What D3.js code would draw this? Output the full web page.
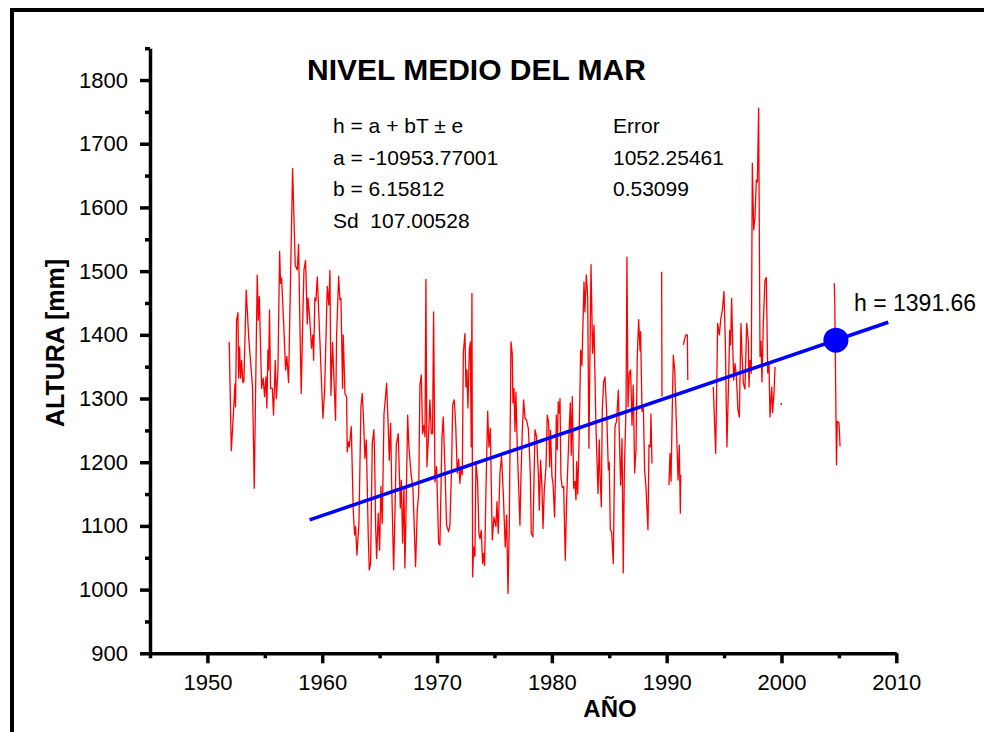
<!DOCTYPE html>
<html>
<head>
<meta charset="utf-8">
<script src="https://cdn.jsdelivr.net/npm/d3@7"></script>
<style>
  html, body { margin: 0; padding: 0; background: #fff; }
  svg { display: block; font-family: "Liberation Sans", Arial, sans-serif; }
</style>
</head>
<body>
<svg id="chart" width="984" height="732"></svg>
<script>
// ─── Data ───────────────────────────────────────
// [year, level in mm], one array per continuous stretch of the record
const obs1950s = [[1951.90,1389],[1952.08,1218],[1952.25,1271],[1952.40,1323],[1952.45,1287],[1952.54,1423],[1952.66,1435],[1952.72,1332],[1952.80,1381],[1952.89,1332],[1952.98,1360],[1953.09,1325],[1953.18,1327],[1953.38,1470],[1953.61,1392],[1953.93,1318],[1954.08,1159],[1954.34,1494],[1954.43,1423],[1954.52,1460],[1954.72,1316],[1954.86,1332],[1954.98,1303],[1955.10,1334],[1955.18,1285],[1955.27,1376],[1955.33,1345],[1955.41,1439],[1955.50,1316],[1955.65,1316],[1955.76,1274],[1955.91,1360],[1956.00,1300],[1956.14,1342],[1956.29,1531],[1956.37,1481],[1956.46,1489],[1956.66,1410],[1956.81,1345],[1956.92,1366],[1957.07,1325],[1957.42,1661],[1957.65,1509],[1957.83,1502],[1957.94,1542],[1958.06,1413],[1958.17,1308],[1958.32,1436],[1958.41,1502],[1958.55,1517],[1958.70,1417],[1958.76,1458],[1958.90,1429],[1959.07,1379],[1959.19,1400],[1959.25,1360],[1959.36,1458],[1959.45,1453],[1959.57,1491],[1959.80,1389]];
const obs1960s = [[1960.06,1269],[1960.21,1313],[1960.44,1476],[1960.58,1447],[1960.67,1501],[1960.76,1305],[1960.90,1388],[1961.16,1266],[1961.25,1397],[1961.43,1492],[1961.54,1455],[1961.63,1457],[1961.77,1316],[1961.83,1400],[1961.98,1308],[1962.12,1303],[1962.18,1216],[1962.27,1232],[1962.36,1224],[1962.53,1256],[1962.70,1125],[1962.82,1086],[1962.91,1099],[1963.02,1054],[1963.20,1104],[1963.37,1287],[1963.49,1308],[1963.60,1266],[1963.72,1206],[1963.84,1235],[1964.01,1083],[1964.10,1031],[1964.21,1041],[1964.36,1230],[1964.50,1251],[1964.56,1214],[1964.65,1099],[1964.74,1049],[1964.88,1120],[1965.00,1062],[1965.11,1162],[1965.23,1104],[1965.38,1276],[1965.61,1324],[1965.78,1240],[1965.84,1203],[1965.96,1261],[1966.04,1172],[1966.22,1031],[1966.36,1141],[1966.45,1227],[1966.62,1245],[1966.74,1169],[1966.80,1128],[1966.89,1172],[1967.00,1073],[1967.12,1162],[1967.20,1034],[1967.32,1141],[1967.44,1274],[1967.55,1224],[1967.73,1183],[1967.90,1159],[1968.13,1036],[1968.28,1125],[1968.40,1151],[1968.51,1321],[1968.63,1337],[1968.74,1245],[1968.86,1258],[1968.95,1240],[1969.03,1487],[1969.12,1193],[1969.27,1245],[1969.38,1298],[1969.50,1245],[1969.61,1245],[1969.70,1436],[1969.82,1169],[1969.96,1193]];
const obs1970s = [[1970.14,1073],[1970.25,1070],[1970.43,1240],[1970.54,1271],[1970.69,1190],[1970.83,1101],[1971.01,1091],[1971.12,1101],[1971.27,1193],[1971.36,1290],[1971.50,1298],[1971.62,1261],[1971.76,1183],[1971.88,1205],[1971.99,1167],[1972.08,1190],[1972.20,1180],[1972.29,1371],[1972.43,1402],[1972.52,1318],[1972.60,1345],[1972.69,1285],[1972.81,1376],[1972.90,1389],[1972.98,1224],[1973.04,1465],[1973.10,1020],[1973.19,1067],[1973.30,1052],[1973.39,1201],[1973.53,1170],[1973.65,1088],[1973.74,1080],[1973.85,1093],[1973.97,1041],[1974.06,1057],[1974.14,1038],[1974.26,1156],[1974.41,1280],[1974.52,1224],[1974.64,1253],[1974.81,1078],[1974.96,1114],[1975.13,1099],[1975.22,1138],[1975.33,1088],[1975.48,1183],[1975.62,1209],[1975.77,1151],[1975.94,1067],[1976.06,1117],[1976.18,994],[1976.29,1099],[1976.44,1389],[1976.55,1370],[1976.61,1293],[1976.70,1316],[1976.79,1248],[1976.87,1310],[1976.99,1224],[1977.22,1101],[1977.31,1177],[1977.42,1245],[1977.54,1298],[1977.66,1269],[1977.80,1266],[1977.95,1253],[1978.03,1224],[1978.12,1183],[1978.21,1088],[1978.35,1083],[1978.53,1251],[1978.67,1240],[1978.82,1183],[1978.91,1125],[1979.02,1203],[1979.14,1160],[1979.23,1096],[1979.34,1156],[1979.49,1193],[1979.60,1274],[1979.72,1262],[1979.81,1193],[1979.89,1250]];
const obs1980s = [[1980.01,1177],[1980.10,1167],[1980.24,1114],[1980.33,1193],[1980.39,1274],[1980.47,1220],[1980.56,1295],[1980.65,1277],[1980.71,1300],[1980.79,1177],[1980.91,1160],[1981.03,1162],[1981.17,1046],[1981.29,1143],[1981.46,1230],[1981.61,1293],[1981.69,1211],[1981.78,1303],[1981.90,1159],[1982.01,1170],[1982.10,1141],[1982.16,1201],[1982.25,1150],[1982.36,1224],[1982.51,1376],[1982.62,1352],[1982.80,1483],[1982.88,1436],[1983.00,1494],[1983.12,1460],[1983.23,1222],[1983.41,1510],[1983.55,1371],[1983.67,1415],[1983.84,1256],[1984.02,1151],[1984.13,1235],[1984.19,1183],[1984.31,1130],[1984.39,1280],[1984.51,1326],[1984.63,1334],[1984.77,1280],[1984.92,1188],[1985.00,1200],[1985.09,1094],[1985.21,1090],[1985.35,1041],[1985.50,1256],[1985.64,1265],[1985.79,1313],[1985.88,1240],[1985.99,1164],[1986.11,1237],[1986.22,1026],[1986.31,1180],[1986.46,1287],[1986.54,1522],[1986.63,1287],[1986.75,1340],[1986.86,1345],[1986.98,1258],[1987.09,1321],[1987.21,1183],[1987.33,1220],[1987.44,1366],[1987.56,1424],[1987.68,1375],[1987.73,1405],[1987.85,1280],[1987.97,1285],[1988.08,1188],[1988.20,1160],[1988.37,1094],[1988.46,1227],[1988.58,1224],[1988.63,1276],[1988.72,1198]];
const obs1989 = [[1989.56,1499],[1989.59,1303]];
const obs1990 = [[1990.20,1164],[1990.29,1214],[1990.38,1170],[1990.52,1318],[1990.58,1368],[1990.70,1345],[1990.87,1245],[1990.99,1172],[1991.10,1227],[1991.19,1120],[1991.22,1180]];
const obs1991 = [[1991.45,1384],[1991.60,1396],[1991.68,1400],[1991.80,1400],[1991.84,1329]];
const obs1994 = [[1994.06,1318],[1994.27,1214],[1994.44,1418],[1994.59,1400],[1994.70,1423],[1994.85,1439],[1994.99,1468],[1995.11,1387],[1995.25,1224],[1995.40,1334],[1995.49,1407],[1995.57,1384],[1995.66,1457],[1995.75,1385],[1995.84,1329],[1995.95,1355],[1996.07,1335],[1996.21,1282],[1996.33,1271],[1996.47,1418],[1996.56,1370],[1996.68,1324],[1996.82,1315],[1996.97,1418],[1997.11,1390],[1997.17,1318],[1997.26,1360],[1997.37,1340],[1997.46,1669],[1997.58,1565],[1997.69,1583],[1997.81,1643],[1997.90,1640],[1998.01,1756],[1998.13,1366],[1998.22,1390],[1998.30,1326],[1998.42,1420],[1998.56,1486],[1998.68,1490],[1998.80,1340],[1998.91,1355],[1999.00,1271],[1999.15,1318],[1999.23,1278],[1999.35,1310],[1999.44,1350]];
const obs2000 = [[1999.93,1293],[2000.02,1290]];
const obs2004 = [[2004.60,1481],[2004.64,1453],[2004.79,1196],[2004.86,1264],[2005.01,1262],[2005.10,1225]];

// regression line end points and the highlighted value
const fitLine  = [[1958.9,1109.4],[2009.3,1419.7]];
const fitPoint = [2004.74, 1391.66];

const yMajor = [900,1000,1100,1200,1300,1400,1500,1600,1700,1800];
const yMinor = [950,1050,1150,1250,1350,1450,1550,1650,1750,1850];
const xMajor = [1950,1960,1970,1980,1990,2000,2010];
const xMinor = [1945,1955,1965,1975,1985,1995,2005];

const title = 'NIVEL MEDIO DEL MAR';
const fitTextLeft  = ['h = a + bT \u00b1 e', 'a = -10953.77001', 'b = 6.15812', 'Sd  107.00528'];
const fitTextRight = ['Error', '1052.25461', '0.53099'];
const pointLabel = 'h = 1391.66';

// ─── Segments (gaps in the record stay open) ───
const segments = [obs1950s.concat(obs1960s, obs1970s, obs1980s), obs1989, obs1990, obs1991, obs1994, obs2000, obs2004];

const svg = d3.select('#chart');

// outer frame, cut off at the right and bottom like the original
svg.append('rect')
  .attr('x', 12).attr('y', 10).attr('width', 1100).attr('height', 900)
  .attr('fill', 'none').attr('stroke', '#000').attr('stroke-width', 4);

const x = d3.scaleLinear().domain([1945, 2010]).range([150, 896.3]),
      y = d3.scaleLinear().domain([900, 1850]).range([653.3, 48.2]);

// ─── Axes ──────────────────────────────────────
function styleAxis(g) {
  g.selectAll('path, line').attr('stroke', '#000').attr('stroke-width', 3.5);
  g.selectAll('text').attr('fill', '#000').style('font-size', '22px')
   .style('font-family', '"Liberation Sans", Arial, sans-serif');
}

svg.append('g').attr('transform', 'translate(150,0)')
  .call(d3.axisLeft(y).tickValues(yMinor).tickSize(5).tickFormat(''))
  .call(g => g.select('.domain').remove())
  .call(styleAxis);
svg.append('g').attr('transform', 'translate(150,0)')
  .call(d3.axisLeft(y).tickValues(yMajor).tickSize(10).tickSizeOuter(0).tickPadding(12).tickFormat(d3.format('d')))
  .call(styleAxis);

svg.append('g').attr('transform', 'translate(0,653.3)')
  .call(d3.axisBottom(x).tickValues(xMinor).tickSize(5).tickFormat(''))
  .call(g => g.select('.domain').remove())
  .call(styleAxis);
svg.append('g').attr('transform', 'translate(0,653.3)')
  .call(d3.axisBottom(x).tickValues(xMajor).tickSize(10).tickSizeOuter(0).tickPadding(11).tickFormat(d3.format('d')))
  .call(styleAxis);

// ─── Series ───────────────────────────────────
const line = d3.line().x(d => x(d[0])).y(d => y(d[1]));

svg.append('g').selectAll('path')
  .data(segments)
  .enter().append('path')
    .attr('d', line)
    .attr('fill', 'none')
    .attr('stroke', '#ff0000')
    .attr('stroke-width', 1.3)
    .attr('stroke-linejoin', 'round');

svg.append('path')
  .attr('d', line(fitLine))
  .attr('fill', 'none').attr('stroke', '#0000ff').attr('stroke-width', 3.5);

svg.append('circle')
  .attr('cx', x(fitPoint[0])).attr('cy', y(fitPoint[1])).attr('r', 12.5)
  .attr('fill', '#0000ff');

// ─── Texts ────────────────────────────────────
svg.append('text').attr('x', 307).attr('y', 80)
  .style('font-size', '30px').style('font-weight', 'bold').text(title);

fitTextLeft.forEach((t, i) => {
  svg.append('text').attr('x', 333).attr('y', 133 + i * 31.7)
    .attr('xml:space', 'preserve').style('white-space', 'pre')
    .style('font-size', '21px').text(t);
});
fitTextRight.forEach((t, i) => {
  svg.append('text').attr('x', 613).attr('y', 133 + i * 31.7)
    .style('font-size', '21px').text(t);
});

svg.append('text').attr('x', 854).attr('y', 311)
  .style('font-size', '23px').text(pointLabel);

svg.append('text')
  .attr('transform', 'translate(64,343) rotate(-90)')
  .attr('text-anchor', 'middle')
  .style('font-size', '25px').style('font-weight', 'bold')
  .text('ALTURA [mm]');

svg.append('text').attr('x', 610).attr('y', 717)
  .attr('text-anchor', 'middle')
  .style('font-size', '24px').style('font-weight', 'bold')
  .text('AÑO');
</script>
</body>
</html>
